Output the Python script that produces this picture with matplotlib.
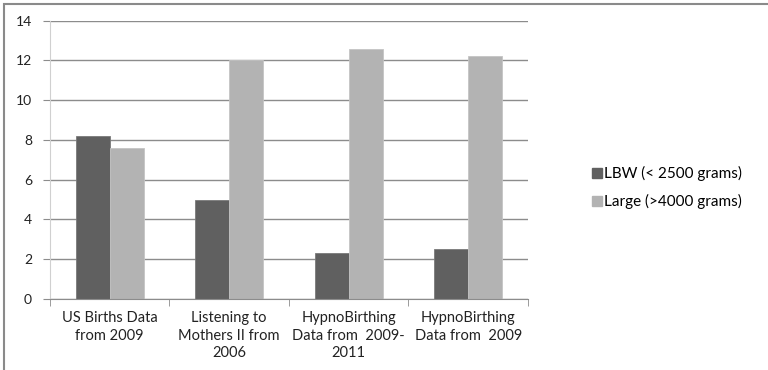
import numpy as np
import matplotlib.pyplot as plt
from matplotlib.patches import Rectangle
from matplotlib.lines import Line2D

categories = ["US Births Data\nfrom 2009",
              "Listening to\nMothers II from\n2006",
              "HypnoBirthing\nData from  2009-\n2011",
              "HypnoBirthing\nData from  2009"]
lbw = [8.2, 5.0, 2.3, 2.5]
large = [7.6, 12.0, 12.6, 12.2]
series_names = ["LBW (< 2500 grams)", "Large (>4000 grams)"]

plt.rcParams['font.family'] = ['Lato', 'DejaVu Sans']

dark = "#606060"
light = "#b3b3b3"

fig = plt.figure(figsize=(7.68, 3.70), dpi=100)
ax = fig.add_axes([0.0651, 0.192, 0.6224, 0.752])

x = np.arange(len(categories))
w = 0.285
ax.bar(x - w / 2, lbw, w, color=dark, edgecolor="#7a7a7a", linewidth=0.6, zorder=3)
ax.bar(x + w / 2, large, w, color=light, edgecolor="#c4c4c4", linewidth=0.6, zorder=3)

ax.set_xlim(-0.5, len(categories) - 0.5)
ax.set_ylim(0, 14)
ax.set_yticks(np.arange(0, 15, 2))
ax.yaxis.grid(True, color="#8c8c8c", linewidth=1.0, zorder=0)
ax.tick_params(axis='y', length=5, color="#8c8c8c", labelsize=10, labelcolor="#222222", pad=8)

ax.set_xticks(x)
ax.set_xticklabels(categories, fontsize=10.5, color="#222222", linespacing=1.3)
ax.tick_params(axis='x', which='major', length=0, pad=9)
ax.set_xticks(np.arange(-0.5, len(categories), 1.0), minor=True)
ax.tick_params(axis='x', which='minor', length=5, color="#8c8c8c")

for side in ["top", "right"]:
    ax.spines[side].set_visible(False)
ax.spines["left"].set_color("#d0d0d0")
ax.spines["bottom"].set_color("#8c8c8c")
ax.spines["bottom"].set_zorder(4)

handles = [Line2D([], [], marker="s", linestyle="none", markersize=7, color=dark),
           Line2D([], [], marker="s", linestyle="none", markersize=7, color=light)]
fig.legend(handles, series_names, loc="center left", bbox_to_anchor=(0.762, 0.493),
           frameon=False, fontsize=11, handletextpad=0.05, labelspacing=0.85,
           borderaxespad=0, handlelength=0.8)

# outer chart frame
fig.patches.append(Rectangle((3.5 / 768, -0.05), 1.2, 1 - 3.5 / 370 + 0.05,
                             transform=fig.transFigure, fill=False,
                             edgecolor="#8a8a8a", linewidth=1.5))

fig.savefig("out.png", dpi=100)
